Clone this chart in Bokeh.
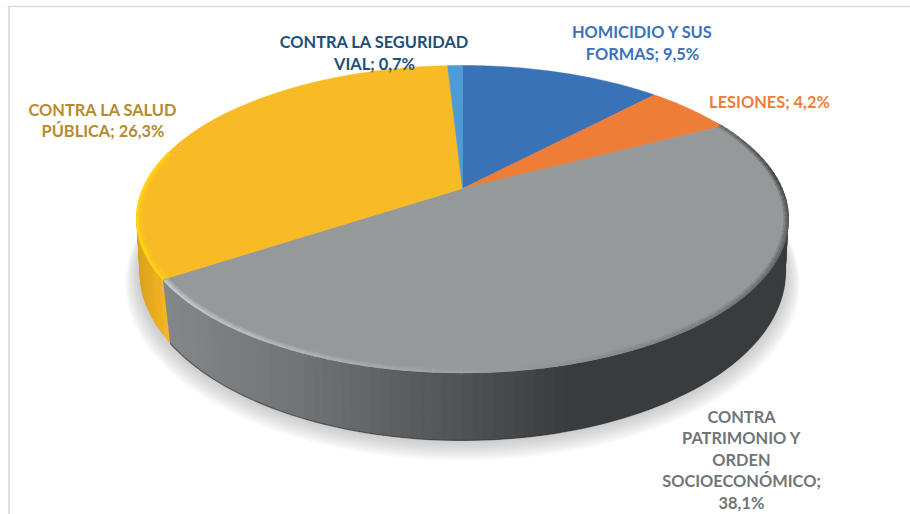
import numpy as np
from bokeh.plotting import figure
from bokeh.embed import file_html
from bokeh.resources import INLINE
from bokeh.core.properties import value
from bokeh.models import Span

categories = ["HOMICIDIO Y SUS\nFORMAS", "LESIONES", "CONTRA\nPATRIMONIO Y\nORDEN\nSOCIOECONÓMICO",
              "CONTRA LA SALUD\nPÚBLICA", "CONTRA LA SEGURIDAD\nVIAL"]
values = [9.5, 4.2, 38.1, 26.3, 0.7]
value_labels = ["9,5%", "4,2%", "38,1%", "26,3%", "0,7%"]
separators = [" ", " ", "\n", " ", " "]
slice_colors = ["#3a72b8", "#ed7d37", "#96999a", "#f8bb25", "#4f9bd5"]
label_colors = ["#3e72b8", "#ed7d37", "#727577", "#b68a30", "#1f4e79"]
label_x = [642, 769, 741, 102.5, 374]
label_y = [42, 101, 458.7, 119.5, 52]

# projective view of the pie disc
PERSP = 0.1987
TOP = dict(cx=462.0, rx=319.5, a=-110.1, b=188.0)
BOTTOM = dict(cx=462.0, rx=316.6, a=-115.1, b=237.4)
RIM_SKEW = 1.8


def proj(deg, r=1.0, plane=TOP, dy=0.0):
    t = np.radians(deg)
    u, v = r * np.sin(t), r * np.cos(t)
    den = PERSP * v + 1
    return plane["cx"] + plane["rx"] * u / den, (plane["a"] * v + plane["b"]) / den + dy


def mix(stops, x):
    xs = [s[0] for s in stops]
    ch = [np.interp(x, xs, [s[1][i] for s in stops]) for i in range(3)]
    return "#%02x%02x%02x" % tuple(int(round(c)) for c in ch)


total = sum(values)
edges = np.concatenate([[0.0], np.cumsum(values)]) * 360.0 / total

p = figure(width=910, height=514, x_range=(0, 910), y_range=(514, 0), output_backend="svg",
           toolbar_location=None, min_border=0)
p.axis.visible = False
p.grid.visible = False
p.outline_line_color = None
p.background_fill_color = "#ffffff"
p.border_fill_color = "#ffffff"

p.add_layout(Span(location=6, dimension="width", line_color="#dcdcdc", line_width=1.5))
p.add_layout(Span(location=8.6, dimension="height", line_color="#d6d6d6", line_width=1.5))
# white patches hide the border stubs above and left of the corner
p.quad(left=[0, 0], right=[7.8, 10], top=[0, 0], bottom=[7, 5.2], fill_color="#ffffff", line_color=None, level="overlay")

# soft shadow under the disc
full = np.linspace(0, 360, 241)
for k in range(10):
    sx, sy = proj(full, 1.002 + 0.0045 * k, BOTTOM, dy=1.0 + 0.9 * k)
    p.patch(list(sx), list(sy), fill_color="#8f9595", fill_alpha=0.055, line_color=None)

# rim strips, painted so each one overlaps the one before it
gray_stops = [(160, (133, 136, 138)), (300, (112, 115, 117)), (455, (80, 83, 85)),
              (565, (57, 60, 62)), (800, (57, 60, 62))]
yellow_stops = [(135, (214, 158, 28)), (165, (243, 180, 32))]
angles = np.arange(60, 305.01, 1.5)
gxs, gys, gcs, yxs, yys, ycs = [], [], [], [], [], []
for a0, a1 in zip(angles[:-1], angles[1:]):
    mid = 0.5 * (a0 + a1)
    if mid < edges[3]:
        top_hi = min(a1 + 1.5, edges[3])
        bot_hi = min(a1 + 1.5, edges[3] - RIM_SKEW)
        if a0 >= bot_hi:
            continue
        x0, y0 = proj(np.array([a0, top_hi]))
        x1, y1 = proj(np.array([a0, bot_hi]), plane=BOTTOM)
        gxs.append([x0[0], x0[1], x1[1], x1[0]])
        gys.append([y0[0], y0[1], y1[1], y1[0]])
        gcs.append(mix(gray_stops, 0.5 * (x0[0] + x1[1])))
    if a1 > edges[3] - 6:
        x0, y0 = proj(np.array([a0, a1 + 1.5]))
        x1, y1 = proj(np.array([a0, a1 + 1.5]), plane=BOTTOM)
        yxs.append([x0[0], x0[1], x1[1], x1[0]])
        yys.append([y0[0], y0[1], y1[1], y1[0]])
        ycs.append(mix(yellow_stops, 0.5 * (x0[0] + x1[1])))
p.patches(yxs[::-1], yys[::-1], fill_color=ycs[::-1], line_color=None)
p.patches(gxs, gys, fill_color=gcs, line_color=None)

# bottom dark lip
lip = np.arange(edges[3] - RIM_SKEW, 60, -1.5)
lx, ly = proj(lip, plane=BOTTOM)
p.line(list(lx), list(ly), line_color="#2f3233", line_width=1.2, line_alpha=0.6)

# top face
xs, ys = [], []
for a0, a1 in zip(edges[:-1], edges[1:]):
    arc = np.linspace(a0, a1, max(3, int(a1 - a0) * 2))
    ax, ay = proj(arc)
    x0, y0 = proj(0.0, 0.0)
    xs.append([x0] + list(ax))
    ys.append([y0] + list(ay))
p.patches(xs, ys, fill_color=slice_colors, line_color=slice_colors, line_width=0.5)

# bevel along the front edge of the disc
bev = np.arange(62, edges[3], 2.0)
shade_stops = [(62, (110, 113, 114)), (85, (70, 73, 75)), (110, (95, 98, 100)), (150, (130, 133, 134)),
               (178, (155, 158, 159)), (215, (185, 188, 189)), (237, (200, 203, 204))]
for r, w, al in [(0.990, 3.5, 0.3), (0.995, 3, 0.55), (0.999, 1.8, 1.0)]:
    segx, segy, segc = [], [], []
    for a0, a1 in zip(bev[:-1], bev[1:]):
        sx, sy = proj(np.array([a0, a1 + 0.3]), r)
        segx.append(list(sx))
        segy.append(list(sy))
        segc.append(mix(shade_stops, 0.5 * (a0 + a1)))
    p.multi_line(segx, segy, line_color=segc, line_width=w, line_alpha=al)

# bright edge of the yellow slice
ye = np.arange(edges[3], 285, 2.0)
yx, yy = proj(ye, 0.997)
p.line(list(yx), list(yy), line_color="#ffd118", line_width=3)
yx, yy = proj(ye, 0.987)
p.line(list(yx), list(yy), line_color="#fcc620", line_width=3, line_alpha=0.6)

# data labels
texts = [f"{c};{s}{v}" for c, s, v in zip(categories, separators, value_labels)]
p.text(x=label_x, y=label_y, text=texts, text_color=label_colors, text_align="center", text_baseline="middle",
       text_font=value("Lato"), text_font_style="bold", text_font_size="16.4px", text_line_height=1.135)

open("out.html", "w").write(file_html(p, INLINE))
